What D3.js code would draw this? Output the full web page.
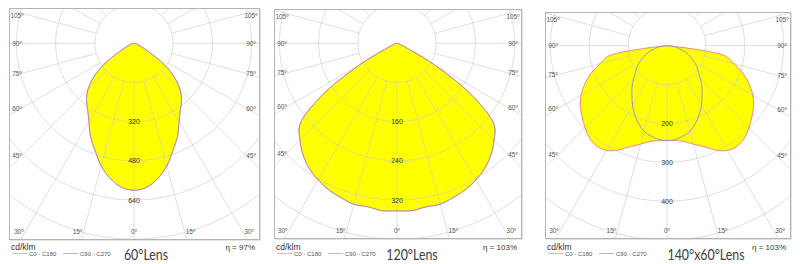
<!DOCTYPE html>
<html>
<head>
<meta charset="utf-8">
<script src="https://cdn.jsdelivr.net/npm/d3@7"></script>
<style>
  body { margin: 0; background: #fff; }
  svg { display: block; }
</style>
</head>
<body>
<div id="chart"></div>
<script>
// Luminous intensity (cd/klm) by angle from nadir, 0..90 deg
const angles = [0, 5, 10, 15, 20, 25, 30, 35, 40, 45, 50, 55, 60, 65, 70, 75, 80, 85, 90];
const lens60 = [600, 590, 560, 518, 465, 420, 368, 330, 302, 265, 215, 150, 70, 35, 18, 10, 5, 2, 0];
const lens120 = [342, 343, 339, 340, 335, 330, 322, 312, 298, 280, 259, 190, 90, 20, 8, 4, 2, 1, 0];
const lens140C0 = [244, 245, 250, 262, 276, 296, 311, 315, 310, 298, 285, 272, 255, 233, 208, 178, 152, 15, 0];
const lens140C90 = [244, 242, 236, 228, 213, 196, 177, 157, 140, 122, 106, 94, 80, 66, 52, 37, 24, 12, 0];

const titles = ['60°Lens', '120°Lens', '140°x60°Lens'];
const efficiencies = ['η = 97%', 'η = 103%', 'η = 103%'];
const gridSteps = [160, 80, 100];
const valueLabels = [[320, 480, 640], [160, 240, 320], [200, 300, 400]];
const angleLabels = [0, 15, 30, 45, 60, 75, 90, 105];
const seriesNames = ['C0 - C180', 'C90 - C270'];

// panel layout
const panels = [
    {frame: {l: 9, r: 259, t: 8, b: 239}, cx: 134, cy: 43.3, unit: 39.2, c0: lens60, c90: lens60, titleX: 146},
    {frame: {l: 274, r: 521, t: 9, b: 238}, cx: 397, cy: 43.3, unit: 39.2, c0: lens120, c90: lens120, titleX: 412},
    {frame: {l: 545, r: 790, t: 12, b: 238}, cx: 667, cy: 45.7, unit: 38.9, c0: lens140C0, c90: lens140C90, titleX: 706}
];

const c0Color = '#e88a8a';
const c90Color = '#8c8ce0';

const svg = d3.select('#chart')
    .append('svg')
    .attr('width', 800)
    .attr('height', 264);

const rad = d => d * Math.PI / 180;

panels.forEach((p, i) => {
    const f = p.frame;
    const step = gridSteps[i];
    const r = d3.scaleLinear().domain([0, step]).range([0, p.unit]);

    // frame
    svg.append('rect')
        .attr('x', f.l + 1.5).attr('y', f.t + 1.5)
        .attr('width', f.r - f.l).attr('height', f.b - f.t)
        .attr('fill', 'none').attr('stroke', '#e4e4e4');
    svg.append('rect')
        .attr('x', f.l + 0.5).attr('y', f.t + 0.5)
        .attr('width', f.r - f.l).attr('height', f.b - f.t)
        .attr('fill', '#fff').attr('stroke', '#b4b4b4');

    svg.append('clipPath').attr('id', 'clip' + i)
        .append('rect')
        .attr('x', f.l + 1).attr('y', f.t + 1)
        .attr('width', f.r - f.l - 1).attr('height', f.b - f.t - 1);

    const g = svg.append('g').attr('clip-path', `url(#clip${i})`);
    const plot = g.append('g').attr('transform', `translate(${p.cx},${p.cy})`);

    // full curve from -90 to 90 (symmetric halves)
    const toPoints = vals => {
        const right = angles.map((a, k) => ({a: a, v: vals[k]}));
        const left = right.slice(1).map(d => ({a: -d.a, v: d.v})).reverse();
        return left.concat(right);
    };
    const line = d3.lineRadial()
        .angle(d => Math.PI - rad(d.a))
        .radius(d => r(d.v))
        .curve(d3.curveCatmullRom.alpha(0.5));

    [p.c0, p.c90].forEach(vals => {
        plot.append('path')
            .attr('d', line(toPoints(vals)) + 'Z')
            .attr('fill', '#ffff00');
    });

    // grid
    const circles = d3.range(1, 9).map(k => k * step);
    plot.selectAll('circle.grid')
        .data(circles)
        .enter()
        .append('circle')
        .attr('r', d => r(d))
        .attr('fill', 'none')
        .attr('stroke', '#c4c4c4')
        .attr('stroke-opacity', 0.55);

    const spokes = d3.range(0, 360, 15);
    plot.selectAll('line.spoke')
        .data(spokes)
        .enter()
        .append('line')
        .attr('x1', d => r(step) * Math.sin(rad(d)))
        .attr('y1', d => r(step) * Math.cos(rad(d)))
        .attr('x2', d => 400 * Math.sin(rad(d)))
        .attr('y2', d => 400 * Math.cos(rad(d)))
        .attr('stroke', '#c4c4c4')
        .attr('stroke-opacity', 0.55);

    // outlines
    plot.append('path')
        .attr('d', line(toPoints(p.c0)) + 'Z')
        .attr('fill', 'none')
        .attr('stroke', c0Color)
        .attr('stroke-width', 1);
    plot.append('path')
        .attr('d', line(toPoints(p.c90)) + 'Z')
        .attr('fill', 'none')
        .attr('stroke', c90Color)
        .attr('stroke-opacity', p.c0 === p.c90 ? 0.6 : 0.9)
        .attr('stroke-width', 1);

    // value labels along 0 deg
    svg.selectAll(null)
        .data(valueLabels[i])
        .enter()
        .append('text')
        .attr('x', p.cx)
        .attr('y', d => p.cy + r(d))
        .attr('dy', '0.35em')
        .attr('text-anchor', 'middle')
        .style('font-family', 'Liberation Sans, Arial, sans-serif')
        .style('font-size', '7px')
        .attr('fill', '#333')
        .text(d => d);

    // angle labels
    const lx = f.l + 8, rx = f.r - 8, by = f.b - 7, ty = f.t + 8;
    const labels = [];
    angleLabels.forEach(a => {
        const sides = a === 0 ? [1] : [-1, 1];
        sides.forEach(s => {
            if (a >= 45) {
                const edgeX = s < 0 ? lx : rx;
                const dx = Math.abs(edgeX - p.cx) - 4.5;
                const y = Math.max(p.cy + dx / Math.tan(rad(a)), ty);
                labels.push({a: a, x: edgeX, y: a === 90 ? p.cy : y});
            } else {
                let x = p.cx + s * (by - p.cy) * Math.tan(rad(a));
                if (a > 0) x += s * 6;
                x = Math.max(lx, Math.min(rx, x));
                labels.push({a: a, x: x, y: by});
            }
        });
    });
    svg.selectAll(null)
        .data(labels)
        .enter()
        .append('text')
        .attr('x', d => d.x)
        .attr('y', d => d.y)
        .attr('dy', '0.35em')
        .attr('text-anchor', 'middle')
        .style('font-family', 'Liberation Sans, Arial, sans-serif')
        .style('font-size', '6.5px')
        .attr('fill', '#555')
        .text(d => d.a + 'º');

    // legend area
    svg.append('text')
        .attr('x', f.l + 2).attr('y', 250)
        .style('font-family', 'Liberation Sans, Arial, sans-serif')
        .style('font-size', '8.5px')
        .attr('fill', '#333')
        .text('cd/klm');
    svg.append('text')
        .attr('x', f.r - 4).attr('y', 250)
        .attr('text-anchor', 'end')
        .style('font-family', 'Liberation Sans, Arial, sans-serif')
        .style('font-size', '8px')
        .attr('fill', '#333')
        .text(efficiencies[i]);

    const legend = svg.selectAll(null)
        .data(seriesNames)
        .enter()
        .append('g')
        .attr('transform', (d, k) => `translate(${f.l + 3 + k * 51},253.5)`);
    legend.append('line')
        .attr('x1', 0).attr('x2', 15)
        .attr('stroke', (d, k) => k === 0 ? '#f4b0b0' : '#b4b4f0')
        .attr('stroke-width', 1);
    legend.append('text')
        .attr('x', 17).attr('dy', '0.35em')
        .style('font-family', 'Liberation Sans, Arial, sans-serif')
        .style('font-size', '6px')
        .attr('fill', '#555')
        .text(d => d);

    // title (narrow, Calibri-like)
    svg.append('g')
        .attr('transform', `translate(${p.titleX},259.5) scale(0.8,1)`)
        .append('text')
        .attr('text-anchor', 'middle')
        .style('font-family', 'Lato, Open Sans, sans-serif')
        .style('font-size', '15.5px')
        .attr('fill', '#404040')
        .text(titles[i]);
});
</script>
</body>
</html>
